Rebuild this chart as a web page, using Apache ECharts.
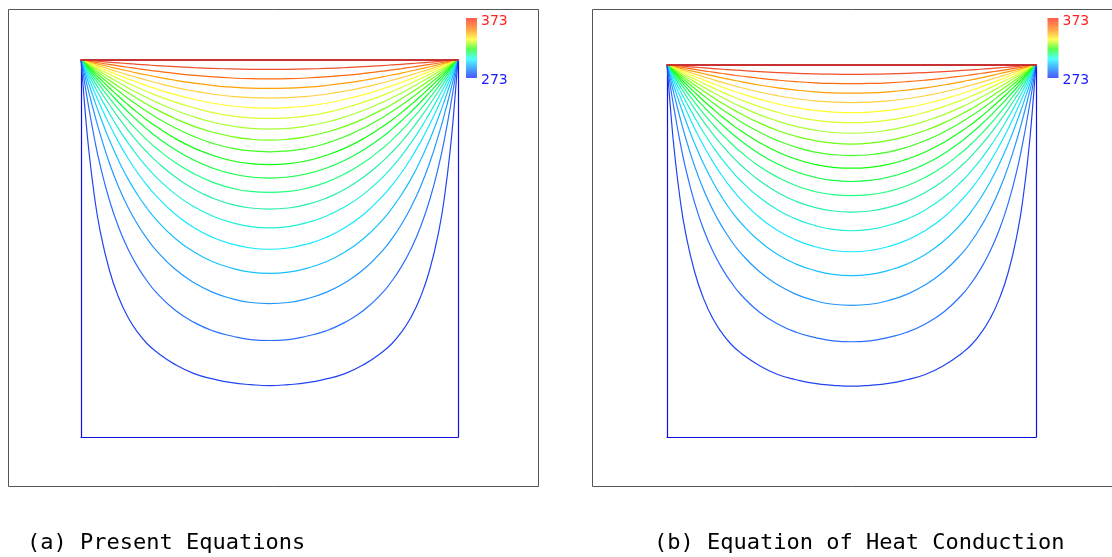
<!DOCTYPE html>
<html>
<head>
<meta charset="utf-8">
<script src="https://cdn.jsdelivr.net/npm/echarts@6/dist/echarts.min.js"></script>
<style>
  html, body { margin: 0; padding: 0; background: #fff; }
  #chart { width: 1112px; height: 557px; }
</style>
</head>
<body>
<div id="chart"></div>
<script>
// isotherm levels (K), hot lid 373, cold walls 273
const levels = [368, 363, 358, 353, 348, 343, 338, 333, 328, 323, 318, 313, 308, 303, 298, 293, 288, 283, 278]
// horizontal position across the cavity (0 = left wall, 0.5 = centre)
const uGrid = [0, 0.01, 0.02, 0.035, 0.05, 0.075, 0.1, 0.125, 0.15, 0.175, 0.2, 0.25, 0.3, 0.35, 0.4, 0.45, 0.5]

// depth below the lid (fraction of cavity height) of each isotherm at uGrid;
// both panels show the same field to within a pixel
const depth = [
  [0, 0.0008, 0.0016, 0.0027, 0.0039, 0.0058, 0.0077, 0.0096, 0.0114, 0.0131, 0.0147, 0.0177, 0.0203, 0.0223, 0.0238, 0.0247, 0.0250],
  [0, 0.0016, 0.0032, 0.0055, 0.0079, 0.0118, 0.0156, 0.0193, 0.0229, 0.0263, 0.0296, 0.0356, 0.0407, 0.0448, 0.0478, 0.0496, 0.0502],
  [0, 0.0024, 0.0048, 0.0084, 0.0120, 0.0178, 0.0236, 0.0292, 0.0347, 0.0398, 0.0448, 0.0538, 0.0614, 0.0676, 0.0721, 0.0748, 0.0755],
  [0, 0.0032, 0.0065, 0.0113, 0.0162, 0.0241, 0.0319, 0.0395, 0.0468, 0.0538, 0.0604, 0.0725, 0.0826, 0.0908, 0.0965, 0.1000, 0.1010],
  [0, 0.0041, 0.0083, 0.0144, 0.0206, 0.0307, 0.0406, 0.0501, 0.0595, 0.0683, 0.0766, 0.0918, 0.1044, 0.1147, 0.1220, 0.1265, 0.1279],
  [0, 0.0051, 0.0102, 0.0178, 0.0254, 0.0378, 0.0499, 0.0616, 0.0729, 0.0835, 0.0937, 0.1119, 0.1270, 0.1394, 0.1480, 0.1533, 0.1550],
  [0, 0.0061, 0.0122, 0.0214, 0.0304, 0.0454, 0.0598, 0.0739, 0.0873, 0.1000, 0.1118, 0.1333, 0.1508, 0.1652, 0.1750, 0.1815, 0.1835],
  [0, 0.0073, 0.0145, 0.0254, 0.0361, 0.0536, 0.0707, 0.0870, 0.1026, 0.1175, 0.1310, 0.1557, 0.1760, 0.1917, 0.2030, 0.2101, 0.2125],
  [0, 0.0085, 0.0171, 0.0298, 0.0424, 0.0630, 0.0828, 0.1019, 0.1198, 0.1366, 0.1523, 0.1803, 0.2033, 0.2212, 0.2340, 0.2413, 0.2435],
  [0, 0.0100, 0.0200, 0.0349, 0.0496, 0.0736, 0.0969, 0.1187, 0.1396, 0.1590, 0.1767, 0.2083, 0.2337, 0.2531, 0.2673, 0.2751, 0.2774],
  [0, 0.0117, 0.0234, 0.0408, 0.0580, 0.0858, 0.1127, 0.1378, 0.1614, 0.1833, 0.2035, 0.2383, 0.2660, 0.2870, 0.3016, 0.3104, 0.3132],
  [0, 0.0138, 0.0275, 0.0479, 0.0680, 0.1005, 0.1314, 0.1604, 0.1872, 0.2118, 0.2341, 0.2721, 0.3020, 0.3246, 0.3400, 0.3487, 0.3510],
  [0, 0.0163, 0.0326, 0.0567, 0.0803, 0.1181, 0.1537, 0.1867, 0.2170, 0.2443, 0.2690, 0.3105, 0.3427, 0.3666, 0.3829, 0.3925, 0.3955],
  [0, 0.0196, 0.0391, 0.0680, 0.0961, 0.1408, 0.1827, 0.2203, 0.2542, 0.2844, 0.3113, 0.3557, 0.3895, 0.4144, 0.4313, 0.4420, 0.4455],
  [0, 0.0241, 0.0480, 0.0832, 0.1172, 0.1704, 0.2186, 0.2613, 0.2991, 0.3322, 0.3612, 0.4092, 0.4450, 0.4708, 0.4880, 0.4986, 0.5020],
  [0, 0.0307, 0.0611, 0.1053, 0.1473, 0.2114, 0.2675, 0.3159, 0.3574, 0.3932, 0.4240, 0.4733, 0.5094, 0.5352, 0.5521, 0.5628, 0.5660],
  [0, 0.0415, 0.0823, 0.1405, 0.1941, 0.2724, 0.3374, 0.3911, 0.4359, 0.4738, 0.5055, 0.5552, 0.5910, 0.6165, 0.6330, 0.6432, 0.6460],
  [0, 0.0626, 0.1228, 0.2049, 0.2757, 0.3708, 0.4443, 0.5019, 0.5480, 0.5856, 0.6170, 0.6638, 0.6960, 0.7184, 0.7320, 0.7416, 0.7440],
  [0, 0.1239, 0.2320, 0.3568, 0.4491, 0.5564, 0.6300, 0.6830, 0.7217, 0.7520, 0.7740, 0.8080, 0.8320, 0.8460, 0.8560, 0.8610, 0.8635]
]

const captions = ['(a) Present Equations', '(b) Equation of Heat Conduction']
const barLabels = ['373', '273']

const lineColors = [
  '#f0502a', '#ff6a10', '#ffa000', '#ffd040', '#ffff30', '#d8ff30', '#a8ff30',
  '#70ff10', '#40ff20', '#10ff10', '#10ff40', '#20ff80', '#28f0a8', '#20f0d8',
  '#18e8ff', '#18c0ff', '#2098ff', '#2a70ff', '#2244f0'
]
const lidColor = '#c83232'
const wallColor = '#1010e0'

const panels = [
  { left: 81, top: 60, width: 377, height: 377, frame: [8.5, 9.5, 530, 477], bar: 466 },
  { left: 667, top: 65, width: 369, height: 372, frame: [592.5, 9.5, 525, 477], bar: 1047.5 }
]

function curve(d) {
  const pts = uGrid.map((u, j) => [u, d[j]])
  for (let j = uGrid.length - 2; j >= 0; j--) pts.push([1 - uGrid[j], d[j]])
  return pts
}

const grid = [], xAxis = [], yAxis = [], series = [], graphic = []
const hidden = { axisTick: { show: false }, axisLabel: { show: false }, splitLine: { show: false } }

panels.forEach((p, k) => {
  grid.push({ left: p.left, top: p.top, width: p.width, height: p.height })
  xAxis.push({ type: 'value', gridIndex: k, min: 0, max: 1, position: 'bottom', ...hidden,
    axisLine: { onZero: false, lineStyle: { color: wallColor, width: 1.2 } } })
  xAxis.push({ type: 'value', gridIndex: k, min: 0, max: 1, position: 'top', ...hidden,
    axisLine: { onZero: false, lineStyle: { color: lidColor, width: 2 } }, z: 5 })
  yAxis.push({ type: 'value', gridIndex: k, min: 0, max: 1, inverse: true, position: 'left', ...hidden,
    axisLine: { onZero: false, lineStyle: { color: wallColor, width: 1.2 } } })
  yAxis.push({ type: 'value', gridIndex: k, min: 0, max: 1, inverse: true, position: 'right', ...hidden,
    axisLine: { onZero: false, lineStyle: { color: wallColor, width: 1.2 } } })

  levels.forEach((lv, i) => {
    series.push({
      type: 'line', name: String(lv), xAxisIndex: 2 * k, yAxisIndex: 2 * k,
      data: curve(depth[i]), showSymbol: false, smooth: 0.5,
      lineStyle: { color: lineColors[i], width: 1.2 }, silent: true
    })
  })

  const [fx, fy, fw, fh] = p.frame
  graphic.push({ type: 'rect', shape: { x: fx, y: fy, width: fw, height: fh },
    style: { fill: 'none', stroke: '#555', lineWidth: 1 } })
  graphic.push({ type: 'rect', shape: { x: p.bar, y: 18, width: 11, height: 60 },
    style: { fill: new echarts.graphic.LinearGradient(0, 0, 0, 1, [
      { offset: 0, color: '#ff5a50' }, { offset: 0.2, color: '#ffa848' },
      { offset: 0.36, color: '#ffff58' }, { offset: 0.52, color: '#58ff50' },
      { offset: 0.68, color: '#50ffff' }, { offset: 0.84, color: '#48a8ff' },
      { offset: 1, color: '#4858ff' }]) } })
  graphic.push({ type: 'text', x: p.bar + 15, y: 14,
    style: { text: barLabels[0], fill: '#ff2020', font: '14px "DejaVu Sans"' } })
  graphic.push({ type: 'text', x: p.bar + 15, y: 73,
    style: { text: barLabels[1], fill: '#1a1aff', font: '14px "DejaVu Sans"' } })
})

graphic.push({ type: 'text', x: 27, y: 543,
  style: { text: captions[0], fill: '#000', font: '22px "DejaVu Sans Mono"', verticalAlign: 'middle' } })
graphic.push({ type: 'text', x: 654, y: 543,
  style: { text: captions[1], fill: '#000', font: '22px "DejaVu Sans Mono"', verticalAlign: 'middle' } })

const chart = echarts.init(document.getElementById('chart'))
chart.setOption({
  animation: false,
  backgroundColor: '#fff',
  grid, xAxis, yAxis, series, graphic
})
</script>
</body>
</html>
